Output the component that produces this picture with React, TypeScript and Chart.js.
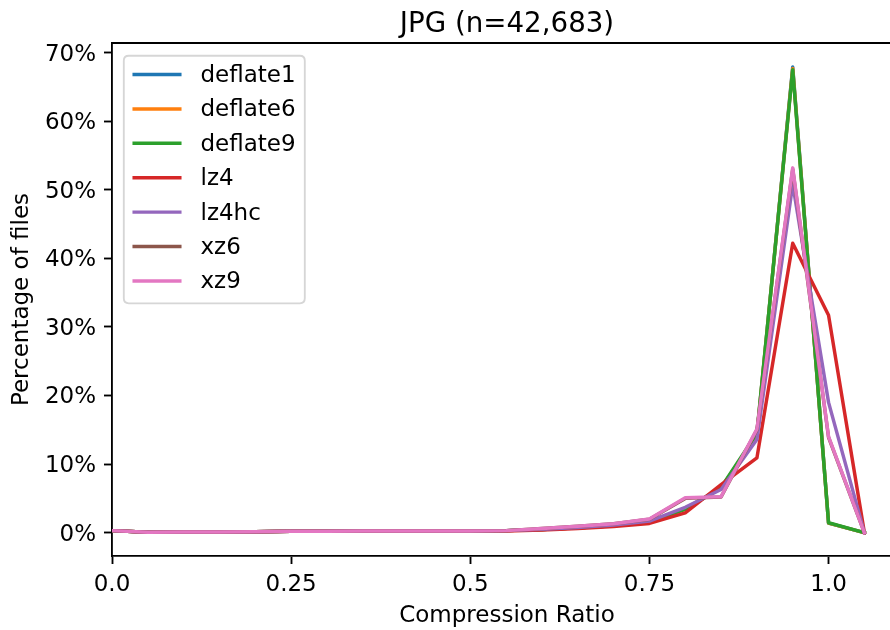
import React, { useEffect, useRef } from 'react';
import { Chart, registerables } from 'chart.js';

Chart.register(...registerables);

const xValues = [0, 0.05, 0.1, 0.15, 0.2, 0.25, 0.3, 0.35, 0.4, 0.45, 0.5, 0.55, 0.6, 0.65, 0.7, 0.75, 0.8, 0.85, 0.9, 0.95, 1.0, 1.05];

const seriesNames = ['deflate1', 'deflate6', 'deflate9', 'lz4', 'lz4hc', 'xz6', 'xz9'];
const seriesColors = ['#1f77b4', '#ff7f0e', '#2ca02c', '#d62728', '#9467bd', '#8c564b', '#e377c2'];

const deflate1 = [0.3, 0.05, 0.1, 0.1, 0.15, 0.2, 0.2, 0.25, 0.25, 0.25, 0.25, 0.3, 0.45, 0.7, 1.0, 1.6, 3.5, 6.5, 14.2, 67.9, 1.4, 0];
const deflate6 = [0.3, 0.05, 0.1, 0.1, 0.15, 0.2, 0.2, 0.25, 0.25, 0.25, 0.25, 0.3, 0.45, 0.7, 1.0, 1.6, 3.5, 6.5, 14.3, 67.7, 1.4, 0];
const deflate9 = [0.3, 0.05, 0.1, 0.1, 0.15, 0.2, 0.2, 0.25, 0.25, 0.25, 0.25, 0.3, 0.45, 0.7, 1.0, 1.6, 3.4, 6.6, 14.5, 67.5, 1.45, 0];
const lz4 = [0.3, 0.05, 0.1, 0.1, 0.15, 0.2, 0.2, 0.25, 0.25, 0.25, 0.25, 0.25, 0.4, 0.6, 0.9, 1.35, 2.9, 7.0, 10.9, 42.2, 31.7, 0];
const lz4hc = [0.3, 0.05, 0.1, 0.1, 0.15, 0.2, 0.2, 0.25, 0.25, 0.25, 0.25, 0.3, 0.5, 0.75, 1.1, 1.7, 3.7, 6.3, 13.6, 50.8, 19.0, 0];
const xz6 = [0.3, 0.05, 0.1, 0.1, 0.15, 0.2, 0.2, 0.25, 0.25, 0.25, 0.25, 0.3, 0.6, 0.95, 1.3, 1.95, 5.0, 5.2, 15.0, 53.0, 13.9, 0];
const xz9 = [0.3, 0.05, 0.1, 0.1, 0.15, 0.2, 0.2, 0.25, 0.25, 0.25, 0.25, 0.3, 0.6, 0.95, 1.3, 2.0, 5.1, 5.25, 15.1, 53.2, 14.0, 0];

const seriesValues = [deflate1, deflate6, deflate9, lz4, lz4hc, xz6, xz9];

const yTickValues = [0, 10, 20, 30, 40, 50, 60, 70];
const xTickValues = [0, 0.25, 0.5, 0.75, 1.0];
const xTickLabels = ['0.0', '0.25', '0.5', '0.75', '1.0'];

const titleText = 'JPG (n=42,683)';
const xAxisTitle = 'Compression Ratio';
const yAxisTitle = 'Percentage of files';

const FONT = "'DejaVu Sans', sans-serif";
const LW = 3.46;

const framePlugin = {
  id: 'frame',
  afterDatasetsDraw(chart: any) {
    const { ctx, chartArea } = chart;
    const { left, right, top, bottom } = chartArea;
    ctx.save();
    ctx.strokeStyle = '#000';
    ctx.lineWidth = 1.85;
    ctx.beginPath();
    ctx.moveTo(left, top);
    ctx.lineTo(right, top);
    ctx.lineTo(right, bottom);
    ctx.stroke();
    ctx.restore();

    // legend (matplotlib style, upper left)
    const bx = left + 11.8;
    const by = top + 12.7;
    const bw = 181;
    const bh = 247.6;
    const r = 5;
    ctx.save();
    ctx.beginPath();
    ctx.moveTo(bx + r, by);
    ctx.lineTo(bx + bw - r, by);
    ctx.quadraticCurveTo(bx + bw, by, bx + bw, by + r);
    ctx.lineTo(bx + bw, by + bh - r);
    ctx.quadraticCurveTo(bx + bw, by + bh, bx + bw - r, by + bh);
    ctx.lineTo(bx + r, by + bh);
    ctx.quadraticCurveTo(bx, by + bh, bx, by + bh - r);
    ctx.lineTo(bx, by + r);
    ctx.quadraticCurveTo(bx, by, bx + r, by);
    ctx.closePath();
    ctx.fillStyle = 'rgba(255,255,255,0.8)';
    ctx.fill();
    ctx.strokeStyle = '#d6d6d6';
    ctx.lineWidth = 1.85;
    ctx.stroke();

    ctx.font = `23px ${FONT}`;
    ctx.textBaseline = 'middle';
    ctx.textAlign = 'left';
    seriesNames.forEach((name, i) => {
      const cy = by + 18.8 + i * 34.4;
      ctx.strokeStyle = seriesColors[i];
      ctx.lineWidth = LW;
      ctx.lineCap = 'square';
      ctx.beginPath();
      ctx.moveTo(bx + 10.4, cy);
      ctx.lineTo(bx + 56, cy);
      ctx.stroke();
      ctx.fillStyle = '#000';
      ctx.fillText(name, bx + 76.7, cy + 1.5);
    });
    ctx.restore();
  },
};

export default function App() {
  const canvasRef = useRef<HTMLCanvasElement | null>(null);

  useEffect(() => {
    const canvas = canvasRef.current;
    if (!canvas) return;
    const datasets = seriesNames.map((name, i) => ({
      label: name,
      data: xValues.map((x, j) => ({ x, y: seriesValues[i][j] })),
      borderColor: seriesColors[i],
      backgroundColor: seriesColors[i],
      borderWidth: LW,
      pointRadius: 0,
      pointHoverRadius: 0,
      tension: 0,
      fill: false,
      borderJoinStyle: 'round' as const,
      borderCapStyle: 'square' as const,
      order: seriesNames.length - 1 - i,
    }));

    const chart = new Chart(canvas, {
      type: 'line',
      data: { datasets },
      options: {
        responsive: false,
        animation: false,
        devicePixelRatio: 1,
        layout: { padding: 0 },
        plugins: {
          legend: { display: false },
          tooltip: { enabled: false },
          title: {
            display: true,
            text: titleText,
            fullSize: false,
            color: '#000',
            font: { family: FONT, size: 27.7, weight: 'normal', lineHeight: 1.2 },
            padding: { top: 8, bottom: 1.8 },
          },
        },
        scales: {
          x: {
            type: 'linear',
            min: 0,
            max: 1.1025,
            afterBuildTicks: (scale: any) => {
              scale.ticks = xTickValues.map((v) => ({ value: v }));
            },
            afterFit: (scale: any) => {
              scale.height = 74;
            },
            ticks: {
              autoSkip: false,
              maxRotation: 0,
              minRotation: 0,
              padding: 7,
              color: '#000',
              font: { family: FONT, size: 23, lineHeight: 1.2 },
              callback: (value: any) => {
                const idx = xTickValues.indexOf(Number(value));
                return idx >= 0 ? xTickLabels[idx] : '';
              },
            },
            grid: {
              drawOnChartArea: false,
              drawTicks: true,
              tickLength: 8,
              tickWidth: 1.85,
              tickColor: '#000',
            },
            border: { display: true, color: '#000', width: 1.85 },
            title: {
              display: true,
              text: xAxisTitle,
              color: '#000',
              font: { family: FONT, size: 23, lineHeight: 1.2 },
              padding: { top: 0, bottom: 0 },
            },
          },
          y: {
            type: 'linear',
            min: -3.4,
            max: 71.4,
            afterBuildTicks: (scale: any) => {
              scale.ticks = yTickValues.map((v) => ({ value: v }));
            },
            afterFit: (scale: any) => {
              scale.width = 112;
            },
            ticks: {
              autoSkip: false,
              padding: 8,
              labelOffset: 2,
              color: '#000',
              font: { family: FONT, size: 23, lineHeight: 1.2 },
              callback: (value: any) => `${value}%`,
            },
            grid: {
              drawOnChartArea: false,
              drawTicks: true,
              tickLength: 8,
              tickWidth: 1.85,
              tickColor: '#000',
            },
            border: { display: true, color: '#000', width: 1.85 },
            title: {
              display: true,
              text: yAxisTitle,
              color: '#000',
              font: { family: FONT, size: 23, lineHeight: 1.2 },
              padding: { top: 8, bottom: 0 },
            },
          },
        },
      },
      plugins: [framePlugin],
    });

    return () => {
      chart.destroy();
    };
  }, []);

  return (
    <div
      style={{
        position: 'absolute',
        left: 0,
        top: 0,
        width: 890,
        height: 630,
        overflow: 'hidden',
        background: '#fff',
      }}
    >
      <canvas ref={canvasRef} width={902} height={630} style={{ display: 'block', width: 902, height: 630 }} />
    </div>
  );
}
